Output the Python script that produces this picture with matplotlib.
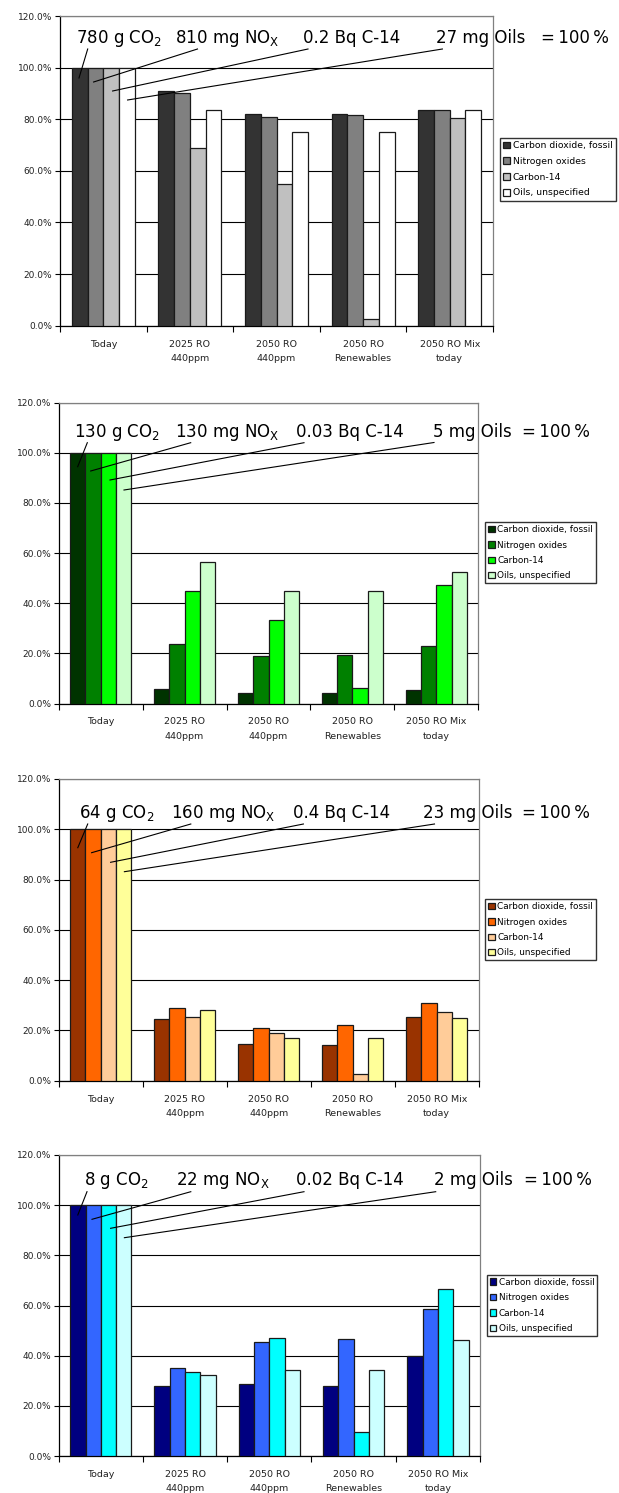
import numpy as np
import matplotlib
matplotlib.use("Agg")
import matplotlib.pyplot as plt
from matplotlib.lines import Line2D

# ---------------- data ----------------
categories = ["Today", "2025 RO\n440ppm", "2050 RO\n440ppm", "2050 RO\nRenewables", "2050 RO Mix\ntoday"]
series_names = ["Carbon dioxide, fossil", "Nitrogen oxides", "Carbon-14", "Oils, unspecified"]

# panel 1 (grey)
p1_co2 = [100, 91.0, 81.9, 81.9, 83.5]
p1_nox = [100, 90.1, 81.0, 81.5, 83.5]
p1_c14 = [100, 68.8, 54.9, 2.5, 80.5]
p1_oil = [100, 83.6, 75.2, 75.1, 83.5]
# panel 2 (green)
p2_co2 = [100, 5.7, 4.3, 4.3, 5.4]
p2_nox = [100, 23.8, 19.0, 19.3, 23.0]
p2_c14 = [100, 44.7, 33.4, 6.1, 47.3]
p2_oil = [100, 56.5, 45.0, 44.7, 52.3]
# panel 3 (orange)
p3_co2 = [100, 24.4, 14.6, 14.1, 25.2]
p3_nox = [100, 29.0, 21.1, 22.3, 31.0]
p3_c14 = [100, 25.2, 18.8, 2.7, 27.4]
p3_oil = [100, 28.1, 16.9, 16.8, 24.8]
# panel 4 (blue)
p4_co2 = [100, 28.0, 28.6, 28.0, 40.0]
p4_nox = [100, 35.2, 45.6, 46.6, 58.5]
p4_c14 = [100, 33.6, 47.0, 9.7, 66.5]
p4_oil = [100, 32.2, 34.3, 34.2, 46.2]

p1_labels = ["780 g CO$_2$", "810 mg NO$_\\mathrm{X}$", "0.2 Bq C-14", "27 mg Oils", "=\u2009100\u2009%"]
p2_labels = ["130 g CO$_2$", "130 mg NO$_\\mathrm{X}$", "0.03 Bq C-14", "5 mg Oils", "=\u2009100\u2009%"]
p3_labels = ["64 g CO$_2$", "160 mg NO$_\\mathrm{X}$", "0.4 Bq C-14", "23 mg Oils", "=\u2009100\u2009%"]
p4_labels = ["8 g CO$_2$", "22 mg NO$_\\mathrm{X}$", "0.02 Bq C-14", "2 mg Oils", "=\u2009100\u2009%"]

# ---------------- styles / layout ----------------
W, H = 619, 1493
plt.rcParams['font.family'] = ['DejaVu Sans']
plt.rcParams['mathtext.fontset'] = 'dejavusans'

fig = plt.figure(figsize=(W / 100, H / 100), dpi=100)


def fx(x):
    return x / W


def fy(y):
    return 1 - y / H


panels = [
    dict(values=[p1_co2, p1_nox, p1_c14, p1_oil],
         colors=['#333333', '#808080', '#c0c0c0', '#ffffff'],
         box=(60, 493, 16, 325.7), legend=(500, 138), legfs=6.7,
         labels=p1_labels, base=43, tx=[76, 175, 303, 436, 541],
         lines=[((87.7, 49), (79, 78)), ((197.5, 49), (93.6, 82)),
                ((308, 49), (112.6, 91)), ((442.4, 49), (127.6, 100))]),
    dict(values=[p2_co2, p2_nox, p2_c14, p2_oil],
         colors=['#003300', '#008000', '#00ff00', '#ccffcc'],
         box=(58.7, 478.3, 402.7, 703.5), legend=(485, 522), legfs=6.4,
         labels=p2_labels, base=437.3, tx=[74, 175, 296, 433, 522],
         lines=[((87.3, 442.7), (77.7, 466.7)), ((190.7, 442.7), (90.7, 471)),
                ((304, 442.7), (110, 480)), ((434, 442.5), (124, 490))]),
    dict(values=[p3_co2, p3_nox, p3_c14, p3_oil],
         colors=['#993300', '#ff6600', '#ffcc99', '#ffff99'],
         box=(58.7, 478.7, 779, 1080.7), legend=(485, 899), legfs=6.4,
         labels=p3_labels, base=818.3, tx=[79, 170.6, 293, 423, 522],
         lines=[((87.7, 824), (77.8, 847.7)), ((190.8, 824), (91.6, 852.7)),
                ((303.4, 824), (110.6, 862.3)), ((434.5, 824), (124.4, 871.7))]),
    dict(values=[p4_co2, p4_nox, p4_c14, p4_oil],
         colors=['#000080', '#3366ff', '#00ffff', '#ccffff'],
         box=(58.7, 480, 1155, 1456), legend=(486.6, 1274.7), legfs=6.4,
         labels=p4_labels, base=1185, tx=[84, 175.8, 295.5, 434.5, 524],
         lines=[((87, 1191.7), (77.8, 1215)), ((190.8, 1191.7), (92, 1219.3)),
                ((304, 1191.7), (110.6, 1228.3)), ((435.7, 1191.7), (124.4, 1237.7))]),
]

n_series = 4
bar_w = 1 / (n_series + 1.5)
x = np.arange(len(categories))

for p in panels:
    left, right, top, bottom = p['box']
    ax = fig.add_axes([fx(left), fy(bottom), (right - left) / W, (bottom - top) / H])
    handles = []
    for j, (vals, col) in enumerate(zip(p['values'], p['colors'])):
        b = ax.bar(x + (j - 1.5) * bar_w, vals, width=bar_w, color=col,
                   edgecolor='#1a1a1a', linewidth=0.9, label=series_names[j], zorder=3)
        handles.append(b)
    ax.set_xlim(-0.5, len(categories) - 0.5)
    ax.set_ylim(0, 120)
    ax.set_yticks(np.arange(0, 121, 20))
    ax.set_yticklabels([f"{v:.1f}%" for v in np.arange(0, 121, 20)], fontsize=6.5, color='#222222')
    ax.yaxis.grid(True, color='black', linewidth=0.8, zorder=0)
    ax.set_axisbelow(True)
    ax.set_xticks(x)
    ax.set_xticklabels(categories, fontsize=6.8, linespacing=1.75, color='#222222')
    ax.set_xticks(np.arange(-0.5, len(categories), 1), minor=True)
    ax.tick_params(axis='x', which='major', length=0, pad=10)
    ax.tick_params(axis='x', which='minor', length=4, width=0.8, direction='out')
    ax.tick_params(axis='y', length=3.5, width=0.8, direction='out', pad=2)
    for s in ['left', 'bottom']:
        ax.spines[s].set_color('black')
        ax.spines[s].set_linewidth(0.9)
    for s in ['top', 'right']:
        ax.spines[s].set_color('#808080')
        ax.spines[s].set_linewidth(0.9)

    lx, ly = p['legend']
    leg = ax.legend(handles=handles, loc='upper left', bbox_to_anchor=(fx(lx), fy(ly)),
                    bbox_transform=fig.transFigure, borderaxespad=0, frameon=True,
                    fancybox=False, edgecolor='black', fontsize=p['legfs'],
                    handlelength=0.75, handleheight=0.75, handletextpad=0.25,
                    labelspacing=0.72, borderpad=0.35)
    leg.get_frame().set_linewidth(1.0)

    for lab, tx in zip(p['labels'], p['tx']):
        fig.text(fx(tx), fy(p['base']), lab, fontsize=12, ha='left', va='baseline',
                 color='black')
    for (a, b) in p['lines']:
        fig.add_artist(Line2D([fx(a[0]), fx(b[0])], [fy(a[1]), fy(b[1])],
                              transform=fig.transFigure, color='black', linewidth=0.8))

fig.savefig("out.png", dpi=100)
